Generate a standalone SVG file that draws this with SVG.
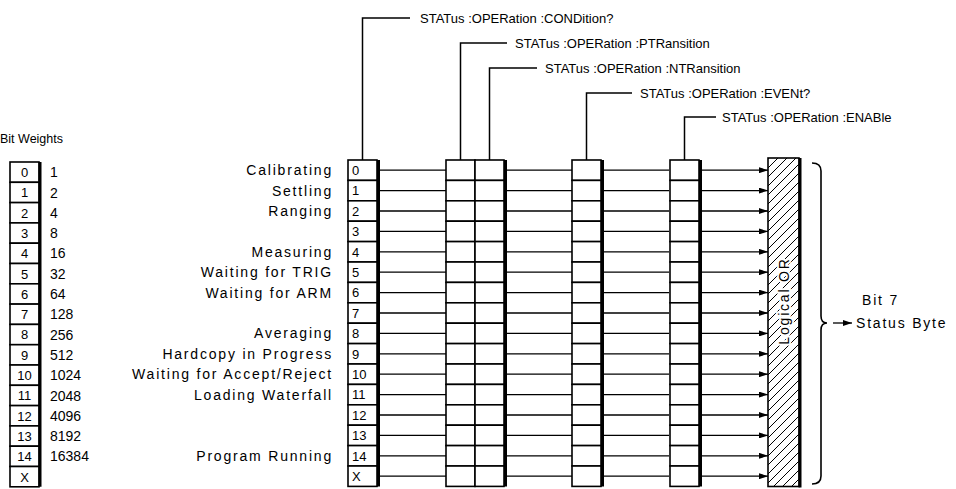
<svg xmlns="http://www.w3.org/2000/svg" xmlns:xlink="http://www.w3.org/1999/xlink" width="956" height="489" viewBox="0 0 956 489">
<style>
  text { font-family: "Liberation Sans", Arial, sans-serif; fill: #000; }
  .lbl { font-size: 14px; letter-spacing: 1.8px; text-anchor: end; }
  .top { font-size: 13px; }
  .dig { font-size: 13px; }
  .num { font-size: 14px; }
  .cell { fill: #fff; stroke: #000; stroke-width: 1.6; }
  .edge { stroke: #000; stroke-width: 3; fill: none; }
  .wire { stroke: #000; stroke-width: 1.3; fill: none; }
  .lead { stroke: #000; stroke-width: 1.5; fill: none; }
</style>
<defs>
  <g id="col">
    <rect class="cell" x="0" y="160" width="29" height="20.4"/>
    <rect class="cell" x="0" y="180.4" width="29" height="20.4"/>
    <rect class="cell" x="0" y="200.8" width="29" height="20.4"/>
    <rect class="cell" x="0" y="221.2" width="29" height="20.4"/>
    <rect class="cell" x="0" y="241.6" width="29" height="20.4"/>
    <rect class="cell" x="0" y="262" width="29" height="20.4"/>
    <rect class="cell" x="0" y="282.4" width="29" height="20.4"/>
    <rect class="cell" x="0" y="302.8" width="29" height="20.4"/>
    <rect class="cell" x="0" y="323.2" width="29" height="20.4"/>
    <rect class="cell" x="0" y="343.6" width="29" height="20.4"/>
    <rect class="cell" x="0" y="364" width="29" height="20.4"/>
    <rect class="cell" x="0" y="384.4" width="29" height="20.4"/>
    <rect class="cell" x="0" y="404.8" width="29" height="20.4"/>
    <rect class="cell" x="0" y="425.2" width="29" height="20.4"/>
    <rect class="cell" x="0" y="445.6" width="29" height="20.4"/>
    <rect class="cell" x="0" y="466" width="29" height="20.4"/>
  </g>
  <g id="wires">
    <line x1="0" y1="170.2" x2="66" y2="170.2"/>
    <line x1="0" y1="190.6" x2="66" y2="190.6"/>
    <line x1="0" y1="211" x2="66" y2="211"/>
    <line x1="0" y1="231.4" x2="66" y2="231.4"/>
    <line x1="0" y1="251.8" x2="66" y2="251.8"/>
    <line x1="0" y1="272.2" x2="66" y2="272.2"/>
    <line x1="0" y1="292.6" x2="66" y2="292.6"/>
    <line x1="0" y1="313" x2="66" y2="313"/>
    <line x1="0" y1="333.4" x2="66" y2="333.4"/>
    <line x1="0" y1="353.8" x2="66" y2="353.8"/>
    <line x1="0" y1="374.2" x2="66" y2="374.2"/>
    <line x1="0" y1="394.6" x2="66" y2="394.6"/>
    <line x1="0" y1="415" x2="66" y2="415"/>
    <line x1="0" y1="435.4" x2="66" y2="435.4"/>
    <line x1="0" y1="455.8" x2="66" y2="455.8"/>
    <line x1="0" y1="476.2" x2="66" y2="476.2"/>
  </g>
  <marker id="ah" viewBox="0 0 9 6" markerWidth="9" markerHeight="6" refX="9" refY="3" markerUnits="userSpaceOnUse" orient="auto">
    <path d="M0,0 L9,3 L0,6 Z" fill="#000"/>
  </marker>
  <pattern id="hatch" patternUnits="userSpaceOnUse" width="9" height="9">
    <path d="M-2,2 L2,-2 M0,9 L9,0 M7,11 L11,7" stroke="#000" stroke-width="1"/>
  </pattern>
</defs>

<g id="bit-weights">
  <text x="0" y="143" style="font-size:12.5px">Bit Weights</text>
  <g>
    <rect class="cell" x="10" y="162" width="29" height="20.3"/>
    <rect class="cell" x="10" y="182.3" width="29" height="20.3"/>
    <rect class="cell" x="10" y="202.6" width="29" height="20.3"/>
    <rect class="cell" x="10" y="222.9" width="29" height="20.3"/>
    <rect class="cell" x="10" y="243.2" width="29" height="20.3"/>
    <rect class="cell" x="10" y="263.5" width="29" height="20.3"/>
    <rect class="cell" x="10" y="283.8" width="29" height="20.3"/>
    <rect class="cell" x="10" y="304.1" width="29" height="20.3"/>
    <rect class="cell" x="10" y="324.4" width="29" height="20.3"/>
    <rect class="cell" x="10" y="344.7" width="29" height="20.3"/>
    <rect class="cell" x="10" y="365" width="29" height="20.3"/>
    <rect class="cell" x="10" y="385.3" width="29" height="20.3"/>
    <rect class="cell" x="10" y="405.6" width="29" height="20.3"/>
    <rect class="cell" x="10" y="425.9" width="29" height="20.3"/>
    <rect class="cell" x="10" y="446.2" width="29" height="20.3"/>
    <rect class="cell" x="10" y="466.5" width="29" height="20.3"/>
    <line class="edge" x1="40" y1="162" x2="40" y2="486.8"/>
  </g>
  <g class="dig" text-anchor="middle">
    <text x="24.5" y="177">0</text>
    <text x="24.5" y="197.3">1</text>
    <text x="24.5" y="217.6">2</text>
    <text x="24.5" y="237.9">3</text>
    <text x="24.5" y="258.2">4</text>
    <text x="24.5" y="278.5">5</text>
    <text x="24.5" y="298.8">6</text>
    <text x="24.5" y="319.1">7</text>
    <text x="24.5" y="339.4">8</text>
    <text x="24.5" y="359.7">9</text>
    <text x="24.5" y="380">10</text>
    <text x="24.5" y="400.3">11</text>
    <text x="24.5" y="420.6">12</text>
    <text x="24.5" y="440.9">13</text>
    <text x="24.5" y="461.2">14</text>
    <text x="24.5" y="481.5">X</text>
  </g>
  <g class="num">
    <text x="50" y="177.2">1</text>
    <text x="50" y="197.5">2</text>
    <text x="50" y="217.8">4</text>
    <text x="50" y="238.1">8</text>
    <text x="50" y="258.4">16</text>
    <text x="50" y="278.7">32</text>
    <text x="50" y="299">64</text>
    <text x="50" y="319.3">128</text>
    <text x="50" y="339.6">256</text>
    <text x="50" y="359.9">512</text>
    <text x="50" y="380.2">1024</text>
    <text x="50" y="400.5">2048</text>
    <text x="50" y="420.8">4096</text>
    <text x="50" y="441.1">8192</text>
    <text x="50" y="461.4">16384</text>
  </g>
</g>

<g id="bit-labels">
  <text class="lbl" x="333" y="175.2">Calibrating</text>
  <text class="lbl" x="333" y="195.6">Settling</text>
  <text class="lbl" x="333" y="216">Ranging</text>
  <text class="lbl" x="333" y="256.8">Measuring</text>
  <text class="lbl" x="333" y="277.2">Waiting for TRIG</text>
  <text class="lbl" x="333" y="297.6">Waiting for ARM</text>
  <text class="lbl" x="333" y="338.4">Averaging</text>
  <text class="lbl" x="333" y="358.8">Hardcopy in Progress</text>
  <text class="lbl" x="333" y="379.2">Waiting for Accept/Reject</text>
  <text class="lbl" x="333" y="399.6">Loading Waterfall</text>
  <text class="lbl" x="333" y="460.8">Program Running</text>
</g>

<g id="connectors">
  <use href="#wires" x="380" class="wire"/>
  <use href="#wires" x="506" class="wire"/>
  <use href="#wires" x="603" class="wire"/>
  <g class="wire" marker-end="url(#ah)">
    <line x1="702" y1="170.2" x2="768" y2="170.2"/>
    <line x1="702" y1="190.6" x2="768" y2="190.6"/>
    <line x1="702" y1="211" x2="768" y2="211"/>
    <line x1="702" y1="231.4" x2="768" y2="231.4"/>
    <line x1="702" y1="251.8" x2="768" y2="251.8"/>
    <line x1="702" y1="272.2" x2="768" y2="272.2"/>
    <line x1="702" y1="292.6" x2="768" y2="292.6"/>
    <line x1="702" y1="313" x2="768" y2="313"/>
    <line x1="702" y1="333.4" x2="768" y2="333.4"/>
    <line x1="702" y1="353.8" x2="768" y2="353.8"/>
    <line x1="702" y1="374.2" x2="768" y2="374.2"/>
    <line x1="702" y1="394.6" x2="768" y2="394.6"/>
    <line x1="702" y1="415" x2="768" y2="415"/>
    <line x1="702" y1="435.4" x2="768" y2="435.4"/>
    <line x1="702" y1="455.8" x2="768" y2="455.8"/>
    <line x1="702" y1="476.2" x2="768" y2="476.2"/>
  </g>
  <g class="lead">
    <polyline points="362.5,160 362.5,18 410,18"/>
    <polyline points="460.5,160 460.5,43 507,43"/>
    <polyline points="489.5,160 489.5,68 537,68"/>
    <polyline points="586.5,160 586.5,93 632,93"/>
    <polyline points="684.5,160 684.5,117 716,117"/>
  </g>
  <line class="wire" x1="833" y1="323" x2="852" y2="323" marker-end="url(#ah)"/>
</g>

<g id="command-labels" class="top">
  <text x="420" y="22.5">STATus :OPERation :CONDition?</text>
  <text x="515" y="47.5">STATus :OPERation :PTRansition</text>
  <text x="545" y="72.5">STATus :OPERation :NTRansition</text>
  <text x="640" y="97.5">STATus :OPERation :EVENt?</text>
  <text x="722" y="121.5">STATus :OPERation :ENABle</text>
</g>

<g id="condition-register">
  <use href="#col" x="348"/>
  <line class="edge" x1="378.5" y1="160" x2="378.5" y2="486.4"/>
  <g class="dig">
    <text x="352" y="174.9">0</text>
    <text x="352" y="195.3">1</text>
    <text x="352" y="215.7">2</text>
    <text x="352" y="236.1">3</text>
    <text x="352" y="256.5">4</text>
    <text x="352" y="276.9">5</text>
    <text x="352" y="297.3">6</text>
    <text x="352" y="317.7">7</text>
    <text x="352" y="338.1">8</text>
    <text x="352" y="358.5">9</text>
    <text x="352" y="378.9">10</text>
    <text x="352" y="399.3">11</text>
    <text x="352" y="419.7">12</text>
    <text x="352" y="440.1">13</text>
    <text x="352" y="460.5">14</text>
    <text x="352" y="480.9">X</text>
  </g>
</g>

<g id="ptransition-register">
  <use href="#col" x="446"/>
</g>
<g id="ntransition-register">
  <use href="#col" x="475"/>
  <line class="edge" x1="505.5" y1="160" x2="505.5" y2="486.4"/>
</g>
<g id="event-register">
  <use href="#col" x="572"/>
  <line class="edge" x1="602.5" y1="160" x2="602.5" y2="486.4"/>
</g>
<g id="enable-register">
  <use href="#col" x="670"/>
  <line class="edge" x1="700.5" y1="160" x2="700.5" y2="486.4"/>
</g>

<g id="logical-or">
  <rect x="768" y="158" width="31" height="328.5" fill="url(#hatch)" stroke="#000" stroke-width="1.6"/>
  <line class="edge" x1="800" y1="158" x2="800" y2="487.5"/>
  <text transform="translate(789,301) rotate(-90)" text-anchor="middle" style="font-size:14px;letter-spacing:1.8px;stroke:#fff;stroke-width:4px;paint-order:stroke">Logical OR</text>
</g>

<g id="status-byte">
  <path d="M812,163 Q821,163 821,171 L821,316 Q821,323 827,323 Q821,323 821,330 L821,476 Q821,484 812,484" fill="none" stroke="#000" stroke-width="1.6"/>
  <text x="862" y="305" style="font-size:14px;letter-spacing:1.8px">Bit 7</text>
  <text x="856" y="328" style="font-size:14px;letter-spacing:1.8px">Status Byte</text>
</g>
</svg>
